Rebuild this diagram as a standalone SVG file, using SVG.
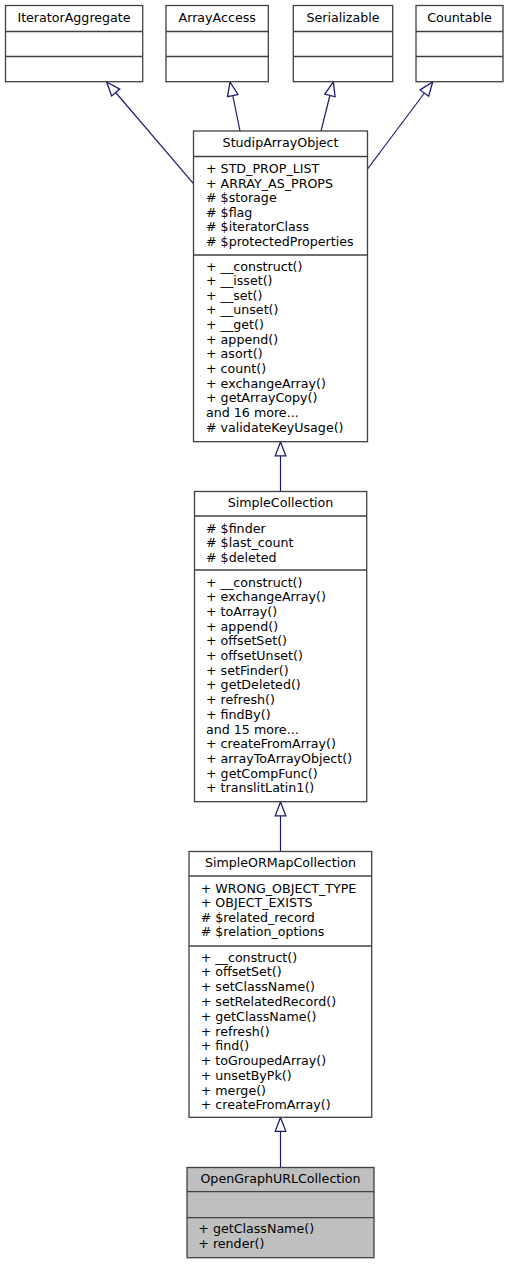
<svg xmlns="http://www.w3.org/2000/svg" width="510" height="1264" viewBox="0 0 510 1264">
<style>
.box{fill:#ffffff;stroke:#404040;stroke-width:1.3}
.hl{fill:#bfbfbf;stroke:#404040;stroke-width:1.3}
.div{stroke:#404040;stroke-width:1.3}
text{font-family:"DejaVu Sans","Liberation Sans",sans-serif;font-size:12.65px;fill:#000}
.c{text-anchor:middle}
.edge{stroke:#191970;stroke-width:1.2;fill:none;marker-end:url(#tri)}
</style>
<defs>
<marker id="tri" markerUnits="userSpaceOnUse" markerWidth="16" markerHeight="14" viewBox="-1 -1 15 12" refX="13" refY="5" orient="auto">
<path d="M0,0 L13,5 L0,10 Z" fill="#ffffff" stroke="#191970" stroke-width="1.2"/>
</marker>
</defs>
<rect width="510" height="1264" fill="#ffffff"/>
<g id="connectors">
<line class="edge" x1="193.3" y1="183.3" x2="106.7" y2="82"/>
<line class="edge" x1="240" y1="131" x2="230" y2="82"/>
<line class="edge" x1="321" y1="131" x2="333.3" y2="82"/>
<line class="edge" x1="367.5" y1="169" x2="432.7" y2="82"/>
<line class="edge" x1="280.5" y1="491.5" x2="280.5" y2="442"/>
<line class="edge" x1="280.5" y1="851.5" x2="280.5" y2="802"/>
<line class="edge" x1="280.5" y1="1167.5" x2="280.5" y2="1117.5"/>
</g>
<g id="IteratorAggregate">
<rect class="box" x="5.5" y="5.5" width="137.2" height="76.2"/>
<line class="div" x1="5.5" y1="31.5" x2="142.7" y2="31.5"/>
<line class="div" x1="5.5" y1="56.5" x2="142.7" y2="56.5"/>
<text class="c" x="74" y="22">IteratorAggregate</text>
</g>
<g id="ArrayAccess">
<rect class="box" x="166" y="5.5" width="102.3" height="76.2"/>
<line class="div" x1="166" y1="31.5" x2="268.3" y2="31.5"/>
<line class="div" x1="166" y1="56.5" x2="268.3" y2="56.5"/>
<text class="c" x="217.2" y="22">ArrayAccess</text>
</g>
<g id="Serializable">
<rect class="box" x="293.3" y="5.5" width="99.4" height="76.2"/>
<line class="div" x1="293.3" y1="31.5" x2="392.7" y2="31.5"/>
<line class="div" x1="293.3" y1="56.5" x2="392.7" y2="56.5"/>
<text class="c" x="343" y="22">Serializable</text>
</g>
<g id="Countable">
<rect class="box" x="416" y="5.5" width="87" height="76.2"/>
<line class="div" x1="416" y1="31.5" x2="503" y2="31.5"/>
<line class="div" x1="416" y1="56.5" x2="503" y2="56.5"/>
<text class="c" x="459.5" y="22">Countable</text>
</g>
<g id="StudipArrayObject">
<rect class="box" x="193.5" y="131" width="174" height="310.7"/>
<line class="div" x1="193.5" y1="156.5" x2="367.5" y2="156.5"/>
<line class="div" x1="193.5" y1="255" x2="367.5" y2="255"/>
<text class="c" x="280.5" y="147">StudipArrayObject</text>
<text x="206" y="173">+ STD_PROP_LIST</text>
<text x="206" y="187.6">+ ARRAY_AS_PROPS</text>
<text x="206" y="202.2"># $storage</text>
<text x="206" y="216.8"># $flag</text>
<text x="206" y="231.4"># $iteratorClass</text>
<text x="206" y="246"># $protectedProperties</text>
<text x="206" y="270.5">+ __construct()</text>
<text x="206" y="285.15">+ __isset()</text>
<text x="206" y="299.8">+ __set()</text>
<text x="206" y="314.45">+ __unset()</text>
<text x="206" y="329.1">+ __get()</text>
<text x="206" y="343.75">+ append()</text>
<text x="206" y="358.4">+ asort()</text>
<text x="206" y="373.05">+ count()</text>
<text x="206" y="387.7">+ exchangeArray()</text>
<text x="206" y="402.35">+ getArrayCopy()</text>
<text x="206" y="417">and 16 more...</text>
<text x="206" y="431.65"># validateKeyUsage()</text>
</g>
<g id="SimpleCollection">
<rect class="box" x="194.5" y="491.5" width="172.2" height="310.2"/>
<line class="div" x1="194.5" y1="516" x2="366.7" y2="516"/>
<line class="div" x1="194.5" y1="570" x2="366.7" y2="570"/>
<text class="c" x="280.5" y="507">SimpleCollection</text>
<text x="206" y="532.5"># $finder</text>
<text x="206" y="547"># $last_count</text>
<text x="206" y="561.5"># $deleted</text>
<text x="206" y="586.5">+ __construct()</text>
<text x="206" y="601.2">+ exchangeArray()</text>
<text x="206" y="615.9">+ toArray()</text>
<text x="206" y="630.6">+ append()</text>
<text x="206" y="645.3">+ offsetSet()</text>
<text x="206" y="660">+ offsetUnset()</text>
<text x="206" y="674.7">+ setFinder()</text>
<text x="206" y="689.4">+ getDeleted()</text>
<text x="206" y="704.1">+ refresh()</text>
<text x="206" y="718.8">+ findBy()</text>
<text x="206" y="733.5">and 15 more...</text>
<text x="206" y="748.2">+ createFromArray()</text>
<text x="206" y="762.9">+ arrayToArrayObject()</text>
<text x="206" y="777.6">+ getCompFunc()</text>
<text x="206" y="792.3">+ translitLatin1()</text>
</g>
<g id="SimpleORMapCollection">
<rect class="box" x="189" y="851.5" width="182.7" height="265.8"/>
<line class="div" x1="189" y1="876" x2="371.7" y2="876"/>
<line class="div" x1="189" y1="946" x2="371.7" y2="946"/>
<text class="c" x="280.5" y="867">SimpleORMapCollection</text>
<text x="200.7" y="892.5">+ WRONG_OBJECT_TYPE</text>
<text x="200.7" y="907">+ OBJECT_EXISTS</text>
<text x="200.7" y="921.5"># $related_record</text>
<text x="200.7" y="936"># $relation_options</text>
<text x="200.7" y="961.7">+ __construct()</text>
<text x="200.7" y="976.46">+ offsetSet()</text>
<text x="200.7" y="991.22">+ setClassName()</text>
<text x="200.7" y="1005.98">+ setRelatedRecord()</text>
<text x="200.7" y="1020.74">+ getClassName()</text>
<text x="200.7" y="1035.5">+ refresh()</text>
<text x="200.7" y="1050.26">+ find()</text>
<text x="200.7" y="1065.02">+ toGroupedArray()</text>
<text x="200.7" y="1079.78">+ unsetByPk()</text>
<text x="200.7" y="1094.54">+ merge()</text>
<text x="200.7" y="1109.3">+ createFromArray()</text>
</g>
<g id="OpenGraphURLCollection">
<rect class="hl" x="187" y="1167.5" width="187" height="90.2"/>
<line class="div" x1="187" y1="1191.7" x2="374" y2="1191.7"/>
<line class="div" x1="187" y1="1217.7" x2="374" y2="1217.7"/>
<text class="c" x="280.5" y="1183">OpenGraphURLCollection</text>
<text x="198.3" y="1232.7">+ getClassName()</text>
<text x="198.3" y="1247.5">+ render()</text>
</g>
</svg>
